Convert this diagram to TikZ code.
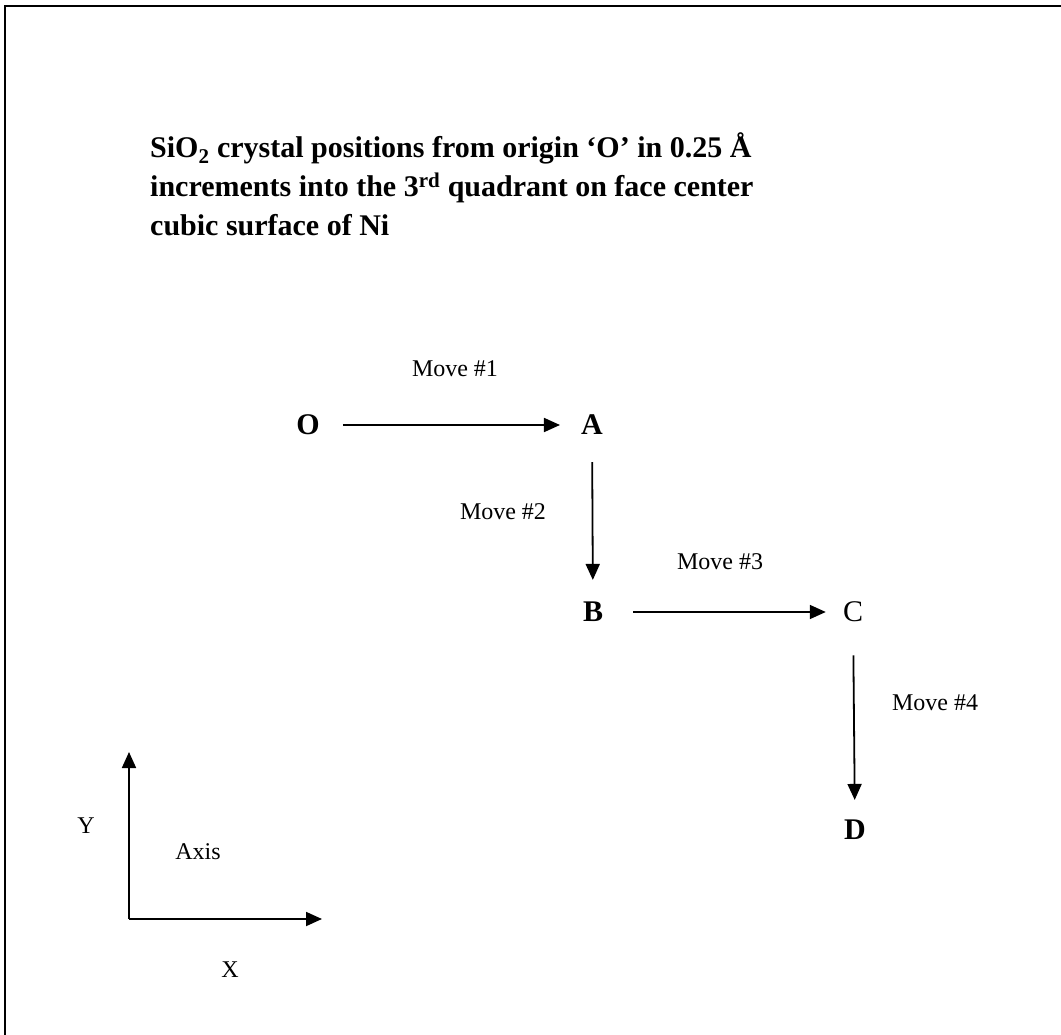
\documentclass[tikz,border=0pt]{standalone}
\usepackage{fontspec}
\setmainfont{Liberation Serif}
\usetikzlibrary{positioning, arrows.meta}

\begin{document}
\begin{tikzpicture}[x=1pt, y=-1pt]
	\tikzset{
		site/.style={font=\fontsize{30}{34}\selectfont\bfseries, inner sep=0pt},
		movelabel/.style={font=\fontsize{24}{28}\selectfont, inner sep=0pt},
		move/.style={line width=1.8pt, -{Triangle[length=16pt, width=14pt]}}
	}
	\useasboundingbox (0,0) rectangle (1061,1035);
	
	% frame
	\draw[line width=2.5pt] (5,1035) -- (5,6) -- (1061,6);
	
	% title
	\node[anchor=base west, align=left, inner sep=0pt, font=\fontsize{30}{39}\selectfont\bfseries] (title) at (150,236)
		{SiO\textsubscript{2} crystal positions from origin ‘O’ in 0.25 Å\\
		 increments into the 3\textsuperscript{rd} quadrant on face center\\
		 cubic surface of Ni};
	
	% positions
	\node[site] (O) at (308,425) {O};
	\node[site] (A) at (592,425) {A};
	\node[site] (B) at (593,612) {B};
	\node[site, font=\fontsize{30}{34}\selectfont] (C) at (853,612) {C};
	\node[site] (D) at (855,830) {D};
	
	% moves
	\draw[move, shorten <=23pt, shorten >=21pt] (O) -- (A);
	\draw[move, shorten <=27pt, shorten >=22pt] (A) -- (B);
	\draw[move, shorten <=30pt, shorten >=17pt] (B) -- (C);
	\draw[move, shorten <=33pt, shorten >=20pt] (C) -- (D);
	
	\node[movelabel] (m1) at (455,369) {Move \#1};
	\node[movelabel] (m2) at (503,512) {Move \#2};
	\node[movelabel] (m3) at (720,562) {Move \#3};
	\node[movelabel] (m4) at (935,703) {Move \#4};
	
	% axis
	\coordinate (axo) at (129,919);
	\coordinate (axy) at (129,752);
	\coordinate (axx) at (322,919);
	\draw[move] (axo) -- (axy);
	\draw[move] (axo) -- (axx);
	\node[movelabel] (ylab) at (86,826) {Y};
	\node[movelabel] (axlab) at (198,852) {Axis};
	\node[movelabel] (xlab) at (230,970) {X};
\end{tikzpicture}
\end{document}
